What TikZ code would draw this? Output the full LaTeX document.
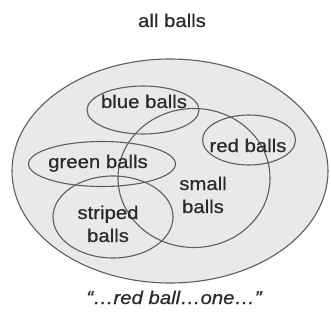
\documentclass[tikz,border=0pt]{standalone}
\usepackage{fontspec}
\setmainfont{Liberation Sans}[FakeStretch=1.1,FakeBold=0.6]
\usetikzlibrary{shapes.geometric}
\definecolor{linegray}{HTML}{5E5E5E}
\definecolor{fillgray}{HTML}{E9E9E9}
\definecolor{textgray}{HTML}{2A2A2A}
\begin{document}
\begin{tikzpicture}[x=1pt,y=-1pt,
  setline/.style={draw=linegray,line width=1.1pt,ellipse,inner sep=0pt},
  lbl/.style={anchor=base,text=textgray,font=\fontsize{18.5}{23}\selectfont,inner sep=0pt,align=center}]
\useasboundingbox (0,0) rectangle (330,331);
\fill[white] (0,0) rectangle (330,331);
\node[setline,fill=fillgray,minimum width=316pt,minimum height=224pt] (all) at (170,171) {};
\node[setline,minimum width=152pt,minimum height=139pt] (small) at (194,178) {};
\node[setline,minimum width=112pt,minimum height=48pt] (blue) at (143,110) {};
\node[setline,minimum width=93pt,minimum height=50pt] (red) at (249,140) {};
\node[setline,minimum width=147pt,minimum height=45pt] (green) at (102,164) {};
\node[setline,minimum width=120pt,minimum height=82pt] (striped) at (113,217) {};
\node[lbl] (tall) at (172,27) {all balls};
\node[lbl] (tblue) at (144,108) {blue balls};
\node[lbl] (tred) at (248,152) {red balls};
\node[lbl] (tgreen) at (98,168) {green balls};
\node[lbl] (tsmall) at (203,213) {small\\balls};
\node[lbl] (tstriped) at (108,242) {striped\\balls};
\node[lbl] (tquote) at (174,304) {\itshape “…red ball…one…”};
\end{tikzpicture}
\end{document}
